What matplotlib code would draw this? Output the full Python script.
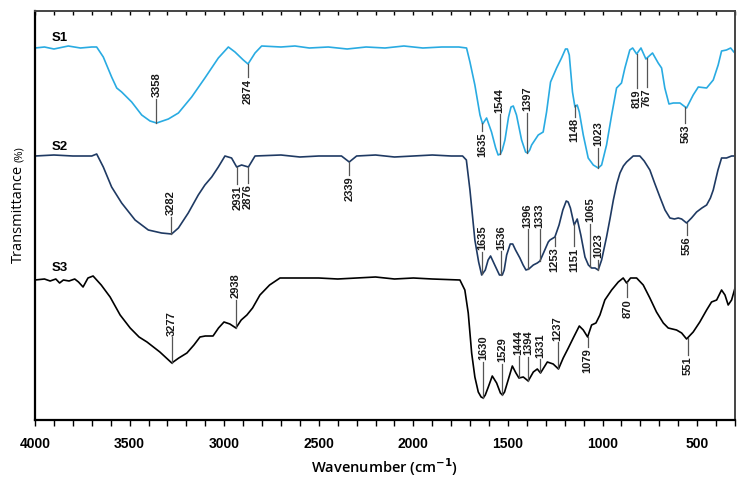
import numpy as np
import matplotlib
matplotlib.use("Agg")
import matplotlib.pyplot as plt
from matplotlib import font_manager as fm

# ---------------- data (wavenumber, transmittance in arbitrary offset units) ----------------
s1_points = [(4000, 372), (3950, 373), (3900, 371), (3824, 374), (3760, 372), (3700, 373), (3674, 373),
             (3639, 363), (3595, 343), (3568, 332), (3542, 328), (3489, 318), (3436, 305), (3392, 299),
             (3357, 297), (3295, 301), (3242, 307), (3172, 323), (3102, 342), (3031, 362), (2978, 373),
             (2943, 368), (2899, 360), (2874, 356), (2837, 367), (2802, 374), (2700, 373), (2626, 374),
             (2550, 372), (2450, 373), (2350, 371), (2250, 373), (2150, 372), (2050, 374), (1950, 372),
             (1850, 373), (1760, 373), (1719, 372), (1701, 358), (1675, 335), (1648, 305), (1634, 296),
             (1613, 302), (1587, 288), (1565, 272), (1552, 265), (1540, 266), (1530, 270), (1516, 280),
             (1497, 303), (1484, 313), (1472, 314), (1455, 305), (1428, 280), (1407, 268), (1396, 267),
             (1385, 270), (1375, 275), (1340, 285), (1314, 288), (1296, 308), (1275, 338), (1243, 352),
             (1217, 362), (1196, 371), (1186, 371), (1176, 365), (1159, 328), (1146, 313), (1134, 315),
             (1123, 308), (1102, 285), (1076, 262), (1049, 255), (1023, 252), (1005, 255), (979, 275),
             (952, 305), (926, 332), (900, 337), (882, 352), (856, 370), (841, 372), (820, 366),
             (797, 372), (771, 361), (736, 367), (706, 357), (688, 352), (671, 332), (649, 316),
             (626, 317), (591, 317), (556, 312), (521, 325), (494, 333), (450, 332), (415, 340),
             (389, 355), (371, 369), (345, 370), (323, 372), (306, 368), (300, 367)]

s2_points = [(4000, 264), (3900, 265), (3800, 264), (3700, 264), (3674, 266), (3639, 253), (3595, 233),
             (3542, 217), (3471, 200), (3401, 190), (3331, 187), (3278, 186), (3242, 192), (3190, 207),
             (3137, 225), (3102, 235), (3066, 243), (3031, 253), (2996, 264), (2961, 262), (2934, 253),
             (2908, 255), (2872, 253), (2837, 264), (2700, 265), (2600, 263), (2500, 264), (2380, 264),
             (2339, 258), (2300, 264), (2200, 265), (2100, 263), (2000, 264), (1900, 265), (1800, 264),
             (1740, 264), (1720, 260), (1701, 230), (1675, 180), (1655, 158), (1639, 145), (1620, 150),
             (1605, 160), (1592, 164), (1570, 155), (1545, 145), (1530, 145), (1520, 150), (1507, 165),
             (1488, 176), (1475, 176), (1460, 170), (1437, 162), (1420, 155), (1405, 150), (1390, 151),
             (1366, 155), (1345, 157), (1331, 159), (1310, 168), (1287, 178), (1278, 180), (1252, 183),
             (1230, 195), (1210, 210), (1192, 219), (1182, 218), (1170, 212), (1150, 195), (1134, 201),
             (1115, 185), (1093, 163), (1075, 155), (1058, 152), (1040, 152), (1023, 150), (1005, 160),
             (979, 183), (960, 202), (943, 220), (925, 236), (908, 247), (890, 254), (873, 258),
             (838, 264), (803, 264), (780, 259), (750, 250), (725, 237), (697, 223), (670, 210),
             (644, 202), (620, 201), (600, 202), (582, 201), (556, 197), (530, 202), (503, 208),
             (475, 212), (450, 215), (430, 222), (415, 230), (390, 250), (371, 262), (345, 262),
             (318, 264), (300, 264)]

s3_points = [(4000, 140), (3950, 141), (3920, 139), (3890, 141), (3870, 137), (3850, 140), (3820, 139),
             (3790, 141), (3770, 138), (3746, 133), (3720, 142), (3693, 144), (3650, 135), (3603, 123),
             (3550, 105), (3497, 92), (3450, 83), (3408, 78), (3340, 68), (3277, 57), (3240, 62),
             (3197, 67), (3160, 75), (3128, 83), (3100, 84), (3059, 84), (3030, 92), (3001, 98),
             (2970, 96), (2938, 92), (2910, 100), (2880, 105), (2850, 112), (2811, 125), (2760, 135),
             (2705, 142), (2652, 142), (2500, 142), (2400, 141), (2300, 142), (2200, 143), (2100, 141),
             (2000, 142), (1900, 141), (1754, 140), (1728, 130), (1710, 107), (1692, 67), (1675, 43),
             (1657, 28), (1642, 23), (1631, 22), (1620, 25), (1604, 33), (1583, 44), (1560, 37),
             (1540, 27), (1529, 25), (1518, 28), (1499, 40), (1477, 54), (1458, 47), (1442, 42),
             (1419, 43), (1393, 39), (1366, 48), (1345, 51), (1328, 47), (1292, 58), (1261, 56),
             (1233, 51), (1208, 62), (1181, 72), (1155, 82), (1123, 94), (1102, 90), (1079, 83),
             (1058, 95), (1035, 97), (1014, 105), (988, 120), (952, 130), (917, 138), (891, 142),
             (873, 137), (852, 142), (820, 142), (785, 135), (750, 122), (715, 108), (679, 97),
             (653, 92), (609, 90), (582, 87), (556, 81), (521, 88), (486, 98), (450, 110), (424, 118),
             (397, 120), (371, 130), (353, 125), (336, 115), (318, 120), (300, 132)]

series_names = ["S1", "S2", "S3"]
series_colors = ["#29abe2", "#1f3a63", "#000000"]

# peak labels: (label, direction, leader length)
s1_peaks = [("3358", "up", 24), ("2874", "down", 13), ("1635", "down", 8), ("1544", "up", 40),
            ("1397", "up", 40), ("1148", "down", 12), ("1023", "up", 20), ("819", "down", 34),
            ("767", "down", 29), ("563", "down", 16)]
s2_peaks = [("3282", "up", 17), ("2931", "down", 17), ("2876", "down", 16), ("2339", "down", 13),
            ("1635", "up", 22), ("1536", "up", 24), ("1396", "up", 40), ("1333", "up", 32),
            ("1253", "down", 9), ("1151", "down", 22), ("1065", "up", 43), ("1023", "up", 10),
            ("556", "down", 12)]
s3_peaks = [("3277", "up", 26), ("2938", "up", 28), ("1630", "up", 36), ("1529", "up", 31),
            ("1444", "up", 21), ("1394", "up", 24), ("1331", "up", 13), ("1237", "up", 26),
            ("1079", "down", 10), ("870", "down", 15), ("551", "down", 17)]

x_ticks = [4000, 3500, 3000, 2500, 2000, 1500, 1000, 500]

# ---------------- fonts ----------------
avail = {f.name for f in fm.fontManager.ttflist}
narrow = "Liberation Sans Narrow" if "Liberation Sans Narrow" in avail else "Liberation Sans"
plt.rcParams['font.family'] = [narrow, 'DejaVu Sans']

# ---------------- figure ----------------
fig = plt.figure(figsize=(7.46, 4.82), dpi=100)
ax = fig.add_axes([35 / 746, 1 - 420 / 482, 700 / 746, 409 / 482])

curves = [(s1_points, s1_peaks), (s2_points, s2_peaks), (s3_points, s3_peaks)]
for (pts, peaks), name, col in zip(curves, series_names, series_colors):
    wn = np.array([p[0] for p in pts], dtype=float)
    t = np.array([p[1] for p in pts], dtype=float)
    ax.plot(wn, t, color=col, lw=1.2, solid_joinstyle='round')
    for lab, d, L in peaks:
        w = float(lab)
        y0 = np.interp(w, wn[::-1], t[::-1])
        sgn = 1 if d == "up" else -1
        y1 = y0 + sgn * L
        ax.plot([w, w], [y0, y1], color="#555555", lw=0.9)
        ax.text(w, y1 + sgn * 1.5, lab, rotation=90, ha='center',
                va='bottom' if d == "up" else 'top',
                fontsize=8, fontweight='bold', color="#1a1a1a")

# series names
name_pos = [382, 273, 152]
for name, yv in zip(series_names, name_pos):
    ax.text(3910, yv, name, fontsize=9.5, fontweight='bold', ha='left', va='center',
            family=['Liberation Sans', 'DejaVu Sans'])

ax.set_xlim(4000, 300)
ax.set_ylim(0, 409)
ax.set_yticks([])
ax.set_xticks(x_ticks)
ax.set_xticks(np.arange(4000, 299, -100), minor=True)
ax.tick_params(axis='x', which='both', direction='out', length=4, width=1, top=False,
               labelsize=10, pad=8)
for lab in ax.get_xticklabels():
    lab.set_fontweight('bold')

sec = ax.secondary_xaxis('top')
sec.set_xticks(x_ticks)
sec.set_xticks(np.arange(4000, 299, -100), minor=True)
sec.tick_params(axis='x', which='both', direction='in', length=3, width=1, labeltop=False)
sec.set_xticklabels([])
sec.spines['top'].set_visible(False)

for s in ['left', 'bottom']:
    ax.spines[s].set_linewidth(1.6)
    ax.spines[s].set_color('black')
for s in ['top', 'right']:
    ax.spines[s].set_linewidth(1.4)
    ax.spines[s].set_color('#444444')

fig.text(385 / 746, 1 - 467 / 482, "Wavenumber (cm$^{\\mathbf{-1}}$)", ha='center', va='center',
         fontsize=10.5, fontweight='semibold', family=['Open Sans', 'DejaVu Sans'])
fig.text(18 / 746, 1 - 214 / 482, "Transmittance", ha='center', va='center', rotation=90,
         fontsize=10.5, family=['Open Sans', 'DejaVu Sans'])
fig.text(19 / 746, 1 - 154 / 482, "(%)", ha='center', va='center', rotation=90,
         fontsize=8, family=['Open Sans', 'DejaVu Sans'])

fig.savefig("out.png", dpi=100)
